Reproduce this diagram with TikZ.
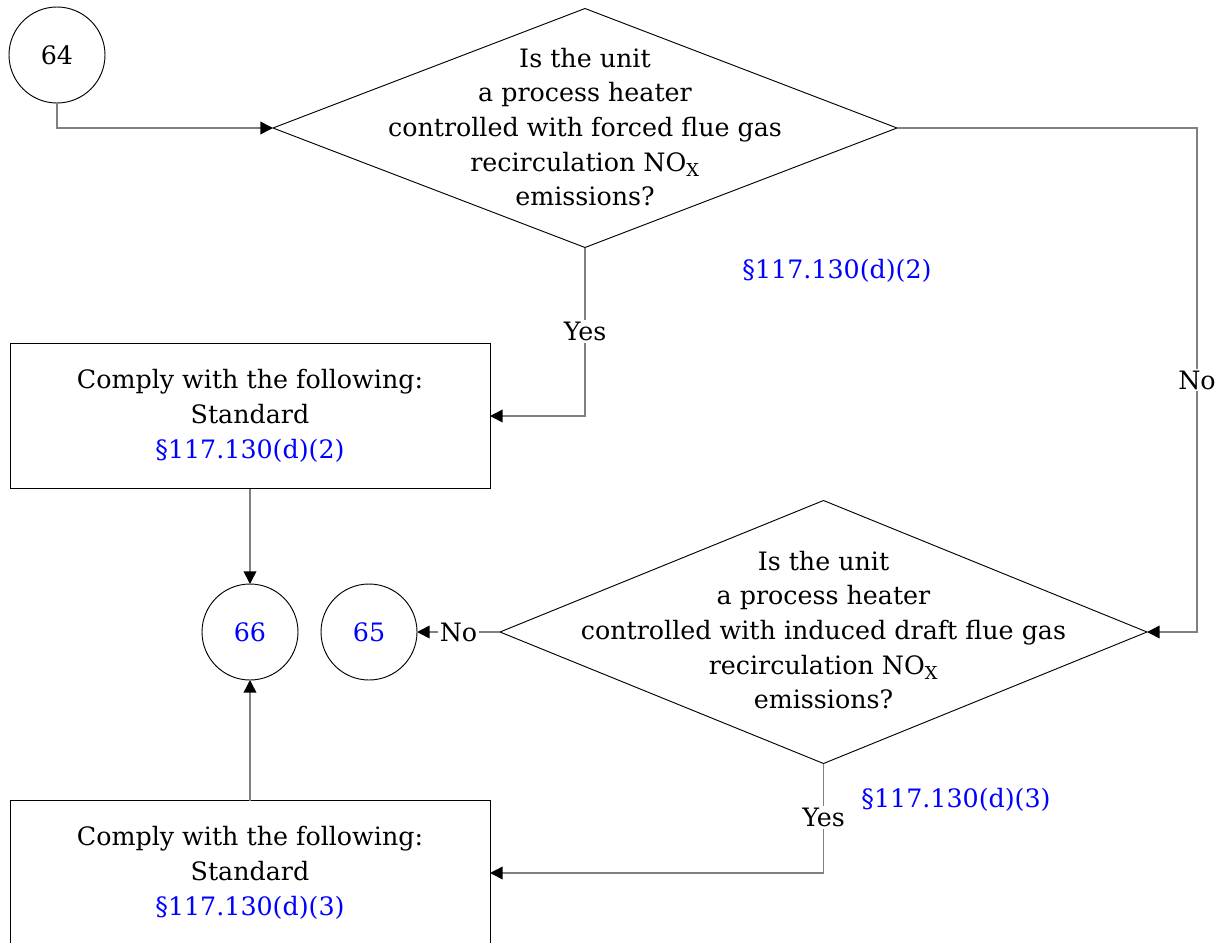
\documentclass[tikz,border=0pt]{standalone}
\usepackage{fontspec}
\setmainfont{DejaVu Serif}
\usetikzlibrary{arrows.meta,shapes.geometric}
\definecolor{linkblue}{HTML}{0000FF}
\definecolor{wiregray}{HTML}{808080}

\begin{document}
\begin{tikzpicture}[x=0.75pt, y=-0.75pt,
    every node/.style={font=\fontsize{19}{26}\selectfont},
    conn/.style={circle, draw=black, line width=0.7pt, minimum size=72pt,
                 inner sep=0pt, outer sep=0pt},
    decision/.style={diamond, draw=black, line width=0.7pt, inner sep=0pt, outer sep=0pt},
    qtext/.style={align=center},
    box/.style={rectangle, draw=black, line width=0.7pt, minimum width=360pt,
                minimum height=108.75pt, align=center, outer sep=0pt},
    ref/.style={text=linkblue},
    lbl/.style={fill=white, inner sep=1.5pt},
    arr/.style={-{Triangle[length=9.5pt,width=9.5pt,color=black]}, draw=wiregray, line width=1.2pt}
  ]
  \useasboundingbox (0,0) rectangle (1226,942);

  \node[conn] (c64) at (57,55) {64};
  \node[decision, minimum width=468pt, minimum height=179.25pt] (q1) at (585,128) {};
  \node[qtext] (q1txt) at (585,127) {Is the unit\\a process heater\\controlled with forced flue gas\\recirculation NO\textsubscript{X}\\emissions?};
  \node[ref] (r1) at (837,271) {§117.130(d)(2)};

  \node[box] (b1) at (250,416) {Comply with the following:\\Standard\\\textcolor{linkblue}{§117.130(d)(2)}};

  \node[conn, text=linkblue] (c66) at (250,632) {66};
  \node[conn, text=linkblue] (c65) at (369,632) {65};
  \node[decision, minimum width=485.25pt, minimum height=197.25pt] (q2) at (823.5,632) {};
  \node[qtext] (q2txt) at (823.5,630) {Is the unit\\a process heater\\controlled with induced draft flue gas\\recirculation NO\textsubscript{X}\\emissions?};
  \node[ref] (r2) at (956,800) {§117.130(d)(3)};

  \node[box] (b2) at (250,873) {Comply with the following:\\Standard\\\textcolor{linkblue}{§117.130(d)(3)}};

  \draw[arr] (c64) |- (q1);
  \draw[arr] (q1) |- node[lbl, pos=0.25] (yes1) {Yes} (b1);
  \draw[arr] (q1.east) -- ++(300,0) |- node[lbl, pos=0.25] (no1) {No} (q2.east);
  \draw[arr] (q2) -- node[lbl] (no2) {No} (c65);
  \draw[arr] (q2) |- node[lbl, pos=0.245] (yes2) {Yes} (b2);
  \draw[arr] (b1) -- (c66);
  \draw[arr] (b2) -- (c66);
\end{tikzpicture}
\end{document}
